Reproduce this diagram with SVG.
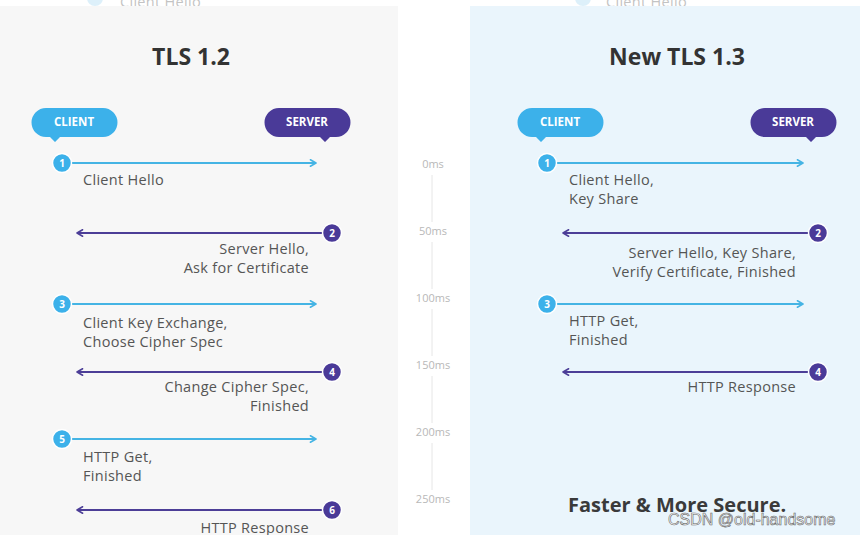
<svg xmlns="http://www.w3.org/2000/svg" width="860" height="535" viewBox="0 0 860 535">
<style>
.title{font-family:"Open Sans","Liberation Sans",sans-serif;font-weight:bold;font-size:23px;fill:#333;text-anchor:middle}
.tag{font-family:"Open Sans","Liberation Sans",sans-serif;font-weight:bold;font-size:11.5px;fill:#fff;text-anchor:middle}
.lbl{font-family:"Open Sans","Liberation Sans",sans-serif;font-size:14.5px;letter-spacing:0.3px;fill:#555}
.r{text-anchor:end}
.num{font-family:"Open Sans","Liberation Sans",sans-serif;font-weight:bold;font-size:10px;fill:#fff;text-anchor:middle}
.ms{font-family:"Open Sans","Liberation Sans",sans-serif;font-size:11px;fill:#b8b8b8;text-anchor:middle}
.tl{stroke:#e6e6e6;stroke-width:1}
.cl{stroke:#45b4e4;stroke-width:2;fill:none}
.sv{stroke:#4c3e97;stroke-width:2;fill:none}
.cfill{fill:#3cb1ea;stroke:#fff;stroke-width:1.5}
.sfill{fill:#4a3a98;stroke:#fff;stroke-width:1.5}
</style>
<defs>
<marker id="ac" viewBox="0 0 10 10" refX="9" refY="5" markerWidth="8" markerHeight="8" orient="auto-start-reverse" markerUnits="userSpaceOnUse"><path d="M2,1 L9,5 L2,9" fill="none" stroke="#45b4e4" stroke-width="2" stroke-linecap="round" stroke-linejoin="round"/></marker>
<marker id="as" viewBox="0 0 10 10" refX="9" refY="5" markerWidth="8" markerHeight="8" orient="auto-start-reverse" markerUnits="userSpaceOnUse"><path d="M2,1 L9,5 L2,9" fill="none" stroke="#4c3e97" stroke-width="2" stroke-linecap="round" stroke-linejoin="round"/></marker>
<clipPath id="top"><rect x="0" y="0" width="860" height="6"/></clipPath>
</defs>
<rect width="860" height="535" fill="#ffffff"/>
<g clip-path="url(#top)" opacity="0.35">
<circle cx="95" cy="-2" r="8" fill="#9fd6f2"/>
<text class="lbl" x="120" y="7" fill="#999">Client Hello</text>
<circle cx="583" cy="-2" r="8" fill="#9fd6f2"/>
<text class="lbl" x="606" y="7" fill="#999">Client Hello</text>
</g>
<rect id="panel-left" x="0" y="6" width="398" height="529" fill="#f7f7f7"/>
<rect id="panel-right" x="470" y="6" width="390" height="529" fill="#eaf5fc"/>

<text class="title" x="191" y="65">TLS 1.2</text>
<text class="title" x="677" y="65">New TLS 1.3</text>

<g id="client-left"><path d="M46,108 H103 A14.5,14.5 0 0 1 103,137 H60 L55,142 L50,137 H46 A14.5,14.5 0 0 1 46,108 Z" fill="#3cb1ea"/><text class="tag" x="74" y="126">CLIENT</text></g>
<g id="server-left"><path d="M279,108 H336 A14.5,14.5 0 0 1 336,137 H330 L325,142 L320,137 H279 A14.5,14.5 0 0 1 279,108 Z" fill="#4a3a98"/><text class="tag" x="307" y="126">SERVER</text></g>
<g id="client-right"><path d="M532,108 H589 A14.5,14.5 0 0 1 589,137 H546 L541,142 L536,137 H532 A14.5,14.5 0 0 1 532,108 Z" fill="#3cb1ea"/><text class="tag" x="560" y="126">CLIENT</text></g>
<g id="server-right"><path d="M765,108 H822 A14.5,14.5 0 0 1 822,137 H816 L811,142 L806,137 H765 A14.5,14.5 0 0 1 765,108 Z" fill="#4a3a98"/><text class="tag" x="793" y="126">SERVER</text></g>

<g id="timeline">
<text class="ms" x="433" y="168">0ms</text>
<line class="tl" x1="432" y1="175" x2="432" y2="222"/>
<text class="ms" x="433" y="235">50ms</text>
<line class="tl" x1="432" y1="242" x2="432" y2="289"/>
<text class="ms" x="433" y="302">100ms</text>
<line class="tl" x1="432" y1="309" x2="432" y2="356"/>
<text class="ms" x="433" y="369">150ms</text>
<line class="tl" x1="432" y1="376" x2="432" y2="423"/>
<text class="ms" x="433" y="436">200ms</text>
<line class="tl" x1="432" y1="443" x2="432" y2="490"/>
<text class="ms" x="433" y="503">250ms</text>
</g>

<g id="connectors">
<line class="cl" x1="62" y1="163" x2="316" y2="163" marker-end="url(#ac)"/>
<line class="sv" x1="332" y1="233" x2="77" y2="233" marker-end="url(#as)"/>
<line class="cl" x1="62" y1="304" x2="316" y2="304" marker-end="url(#ac)"/>
<line class="sv" x1="332" y1="372" x2="77" y2="372" marker-end="url(#as)"/>
<line class="cl" x1="62" y1="439" x2="316" y2="439" marker-end="url(#ac)"/>
<line class="sv" x1="332" y1="510" x2="77" y2="510" marker-end="url(#as)"/>
<line class="cl" x1="547" y1="163" x2="803" y2="163" marker-end="url(#ac)"/>
<line class="sv" x1="818" y1="233" x2="563" y2="233" marker-end="url(#as)"/>
<line class="cl" x1="547" y1="304" x2="803" y2="304" marker-end="url(#ac)"/>
<line class="sv" x1="818" y1="372" x2="563" y2="372" marker-end="url(#as)"/>
</g>

<g id="l1"><circle class="cfill" cx="62" cy="163" r="9.5"/><text class="num" x="62" y="166.5">1</text><text class="lbl" x="83" y="185">Client Hello</text></g>
<g id="l2"><circle class="sfill" cx="332" cy="233" r="9.5"/><text class="num" x="332" y="236.5">2</text><text class="lbl r" x="309" y="254">Server Hello,</text><text class="lbl r" x="309" y="273">Ask for Certificate</text></g>
<g id="l3"><circle class="cfill" cx="62" cy="304" r="9.5"/><text class="num" x="62" y="307.5">3</text><text class="lbl" x="83" y="328">Client Key Exchange,</text><text class="lbl" x="83" y="347">Choose Cipher Spec</text></g>
<g id="l4"><circle class="sfill" cx="332" cy="372" r="9.5"/><text class="num" x="332" y="375.5">4</text><text class="lbl r" x="309" y="392">Change Cipher Spec,</text><text class="lbl r" x="309" y="411">Finished</text></g>
<g id="l5"><circle class="cfill" cx="62" cy="439" r="9.5"/><text class="num" x="62" y="442.5">5</text><text class="lbl" x="83" y="462">HTTP Get,</text><text class="lbl" x="83" y="481">Finished</text></g>
<g id="l6"><circle class="sfill" cx="332" cy="510" r="9.5"/><text class="num" x="332" y="513.5">6</text><text class="lbl r" x="309" y="533">HTTP Response</text></g>

<g id="r1"><circle class="cfill" cx="547" cy="163" r="9.5"/><text class="num" x="547" y="166.5">1</text><text class="lbl" x="569" y="185">Client Hello,</text><text class="lbl" x="569" y="204">Key Share</text></g>
<g id="r2"><circle class="sfill" cx="818" cy="233" r="9.5"/><text class="num" x="818" y="236.5">2</text><text class="lbl r" x="796" y="258">Server Hello, Key Share,</text><text class="lbl r" x="796" y="277">Verify Certificate, Finished</text></g>
<g id="r3"><circle class="cfill" cx="547" cy="304" r="9.5"/><text class="num" x="547" y="307.5">3</text><text class="lbl" x="569" y="326">HTTP Get,</text><text class="lbl" x="569" y="345">Finished</text></g>
<g id="r4"><circle class="sfill" cx="818" cy="372" r="9.5"/><text class="num" x="818" y="375.5">4</text><text class="lbl r" x="796" y="392">HTTP Response</text></g>

<text x="568" y="512" font-family="Open Sans, Liberation Sans, sans-serif" font-weight="bold" font-size="20" fill="#3a3a3a">Faster &amp; More Secure.</text>
<text x="668" y="525" font-family="Liberation Sans, Arial, sans-serif" font-size="16" fill="#ffffff" stroke="#666" stroke-width="0.6">CSDN @old-handsome</text>
</svg>
